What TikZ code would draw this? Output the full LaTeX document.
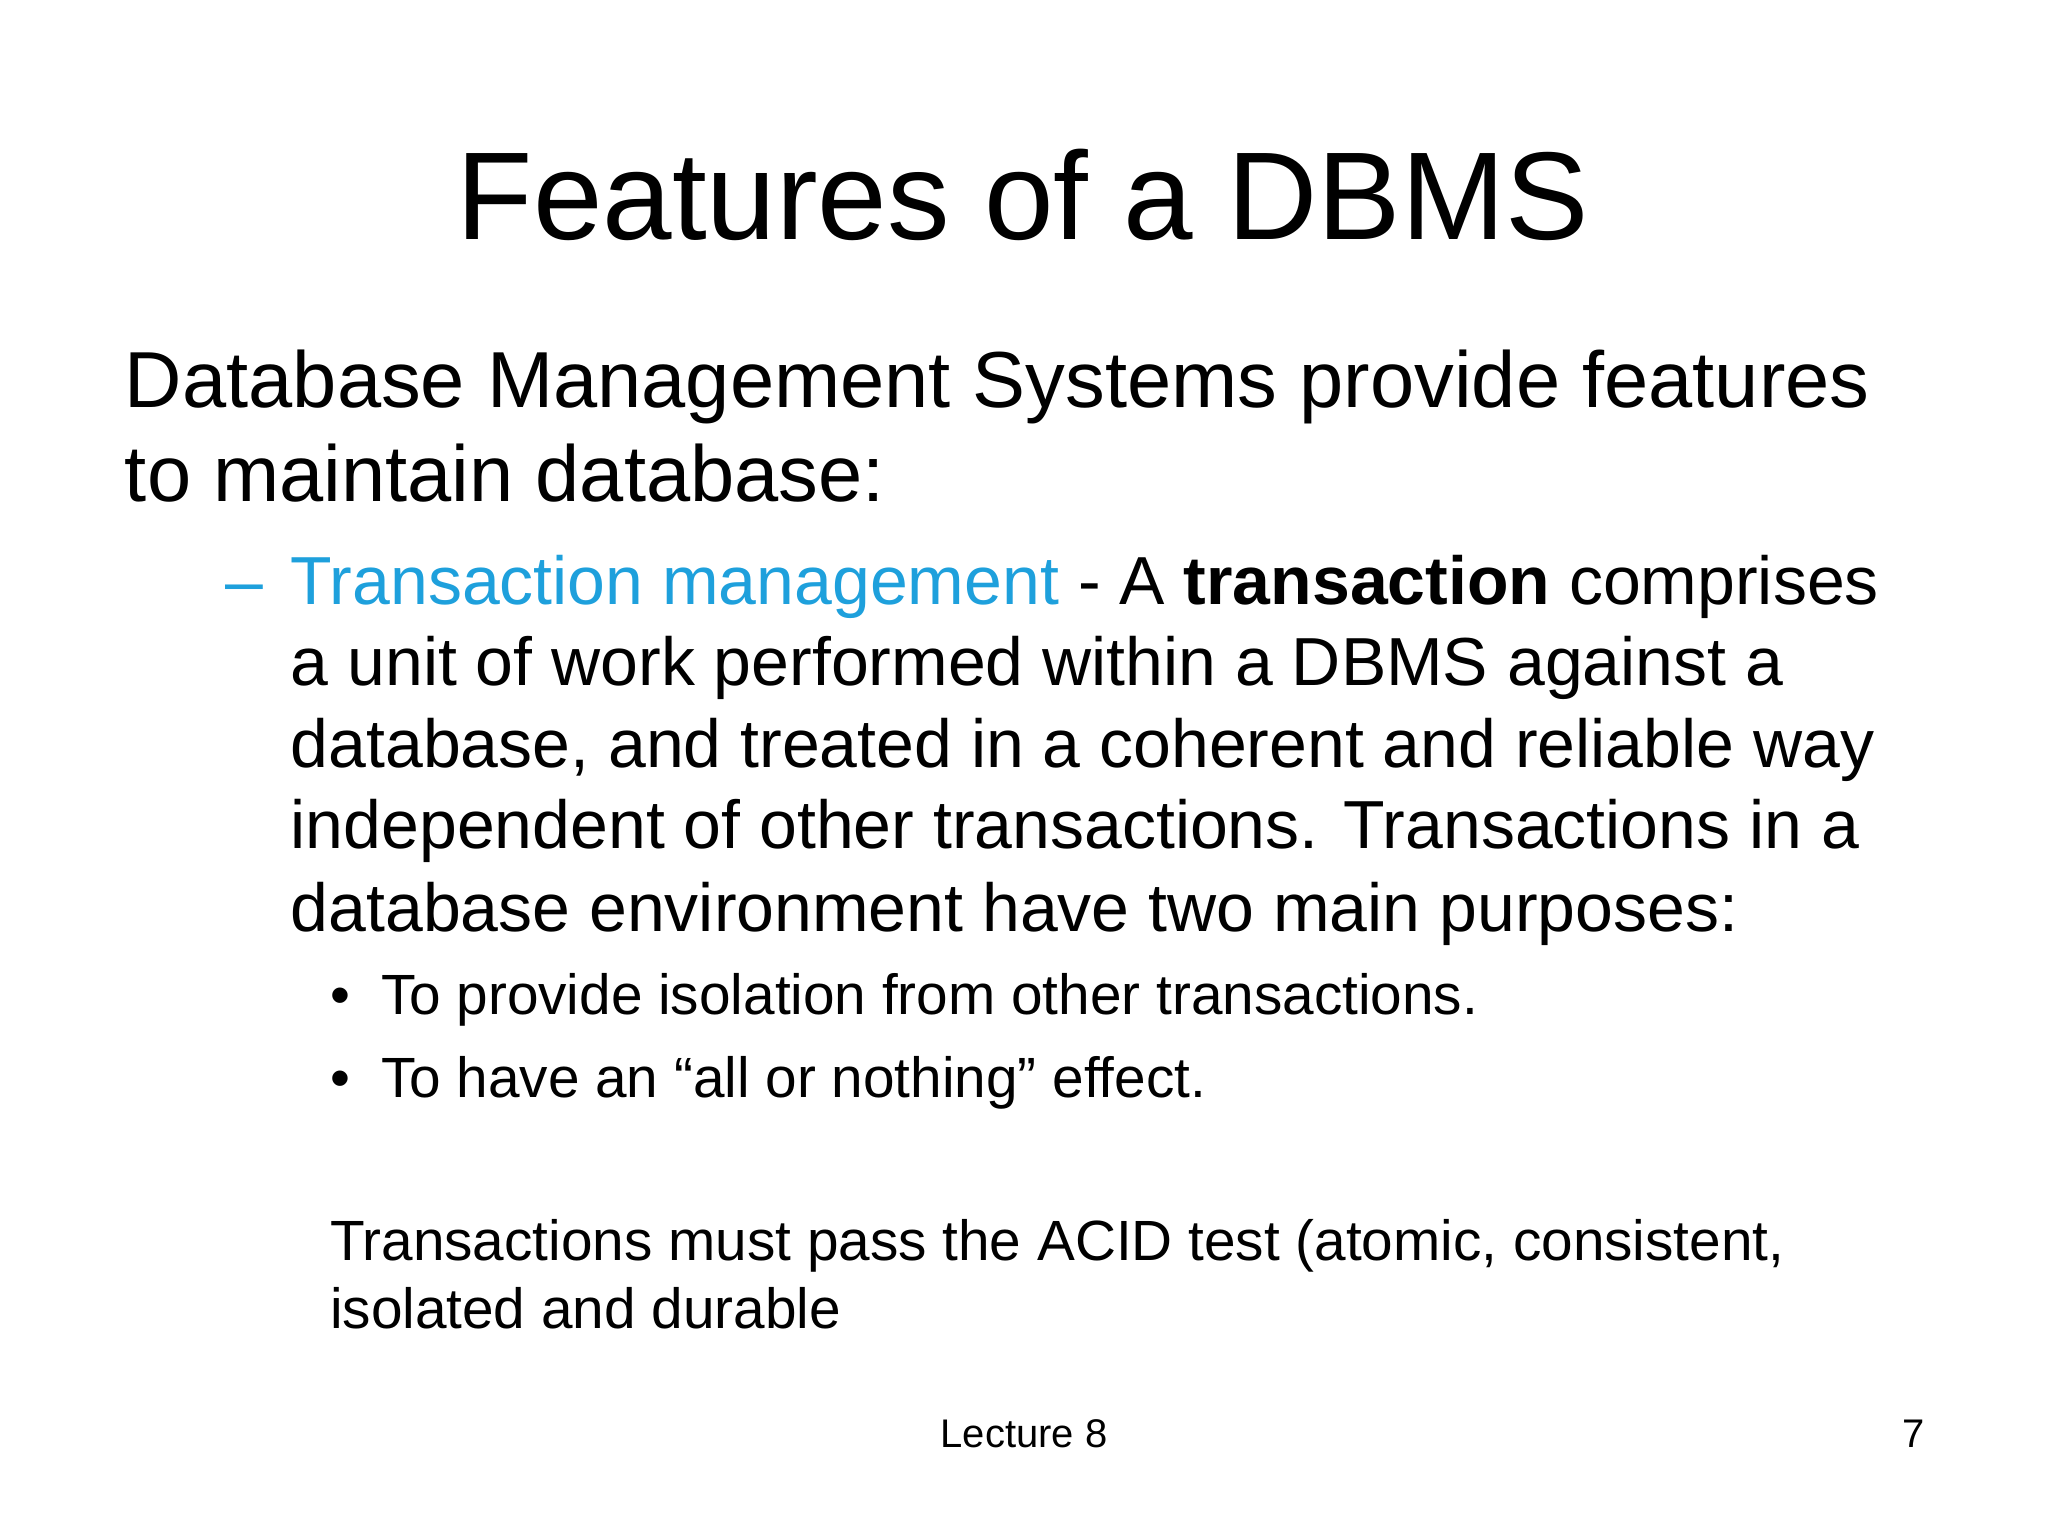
\documentclass[tikz,border=0pt]{standalone}
\usepackage{fontspec}
\setmainfont{Liberation Sans}
\definecolor{tmblue}{RGB}{30,160,220}
\begin{document}
\begin{tikzpicture}[x=0.01cm,y=-0.01cm,
  txt/.style={anchor=base west,inner sep=0pt},
  big/.style={txt,font=\fontsize{17.3}{20}\selectfont},
  mid/.style={txt,font=\fontsize{14.8}{17}\selectfont},
  sml/.style={txt,font=\fontsize{12.35}{15}\selectfont}]
\useasboundingbox (0,0) rectangle (1568,1176);
\node[anchor=base,inner sep=0pt,font=\fontsize{27.2}{32}\selectfont] (title) at (783,183) {Features of a DBMS};
\node[big] (l1) at (95,312) {Database Management Systems provide features};
\node[big] (l2) at (95,384) {to maintain database:};
\node[mid] (dash) at (172,463) {\textcolor{tmblue}{–}};
\node[mid] (s1) at (222,463) {\textcolor{tmblue}{Transaction management} - A \textbf{transaction} comprises};
\node[mid] (s2) at (222,525) {a unit of work performed within a DBMS against a};
\node[mid] (s3) at (222,588) {database, and treated in a coherent and reliable way};
\node[mid] (s4) at (222,650) {independent of other transactions. Transactions in a};
\node[mid] (s5) at (222,713) {database environment have two main purposes:};
\node[sml] (b1d) at (252,777) {•};
\node[sml] (b1) at (291,777) {To provide isolation from other transactions.};
\node[sml] (b2d) at (252,840) {•};
\node[sml] (b2) at (291,840) {To have an “all or nothing” effect.};
\node[sml] (a1) at (252,965) {Transactions must pass the ACID test (atomic, consistent,};
\node[sml] (a2) at (252,1017) {isolated and durable};
\node[anchor=base,inner sep=0pt,font=\fontsize{8.7}{10}\selectfont] (lec) at (784,1108) {Lecture 8};
\node[anchor=base,inner sep=0pt,font=\fontsize{8.7}{10}\selectfont] (num) at (1465,1108) {7};
\end{tikzpicture}
\end{document}
